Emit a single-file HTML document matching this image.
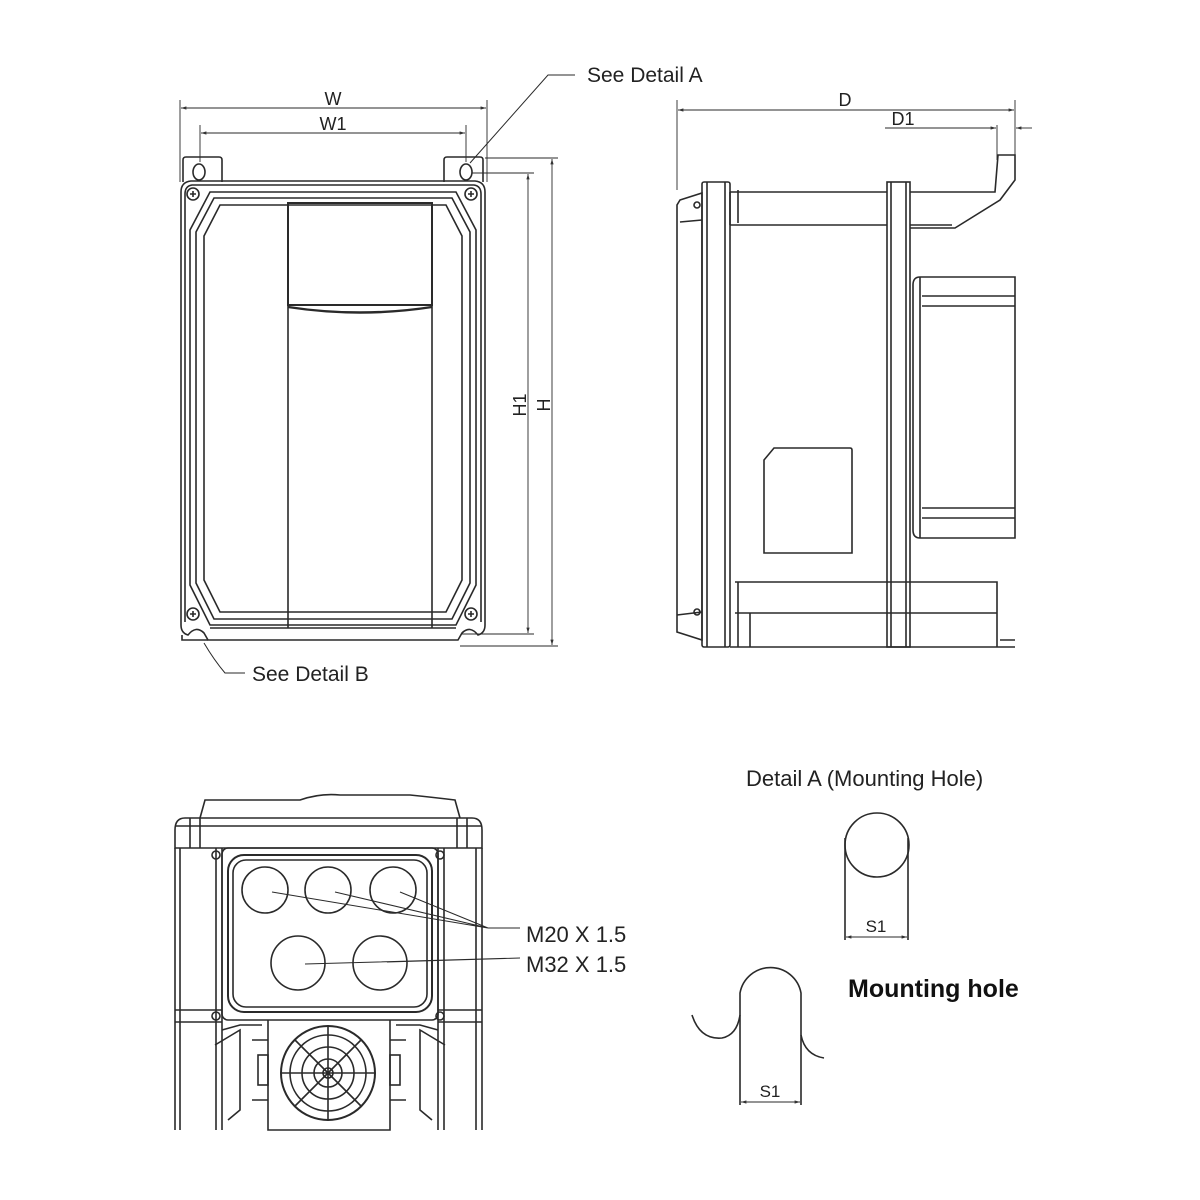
<!DOCTYPE html>
<html><head><meta charset="utf-8"><style>
html,body{margin:0;padding:0;background:#fff}
svg{display:block}
text{font-family:"Liberation Sans",Arial,sans-serif;fill:#222}
</style></head><body>
<svg width="1200" height="1200" viewBox="0 0 1200 1200" xmlns="http://www.w3.org/2000/svg">
<defs>
<marker id="ar" viewBox="0 0 10 10" refX="10" refY="5" markerWidth="8" markerHeight="6" orient="auto-start-reverse"><path d="M0,2 L10,5 L0,8 z" fill="#333"/></marker>
</defs>
<g fill="none" stroke="#2a2a2a" stroke-width="1.6">
<!-- FRONT VIEW -->
<path d="M183,182 V160 Q183,157 186,157 H219 Q222,157 222,160 V182"/>
<path d="M444,182 V160 Q444,157 447,157 H480 Q483,157 483,160 V182"/>
<ellipse cx="199" cy="172" rx="6" ry="8"/>
<ellipse cx="466" cy="172" rx="6" ry="8"/>
<path d="M181,192 Q181,182 191,181 H475 Q485,182 485,192 V625 Q485,633 478,635 Q470,625 462,633 L458,640 H208 L204,633 Q196,625 188,635 Q181,633 181,625 Z"/>
<path d="M185,194 Q185,186 192,185 H474 Q481,186 481,194 V622"/>
<path d="M185,194 V622"/>
<path d="M190,230 L210,192 H456 L476,230 V585 L456,625 H210 L190,585 Z"/>
<path d="M196,232 L214,198 H452 L470,232 V583 L452,619 H214 L196,583 Z"/>
<path d="M204,236 L220,205 H446 L462,236 V580 L446,612 H220 L204,580 Z"/>
<path d="M182,635 V640 H208" />
<circle cx="193" cy="194" r="6"/><circle cx="471" cy="194" r="6"/>
<circle cx="193" cy="614" r="6"/><circle cx="471" cy="614" r="6"/>
<path d="M190,194 H196 M193,191 V197 M468,194 H474 M471,191 V197 M190,614 H196 M193,611 V617 M468,614 H474 M471,611 V617"/>
<rect x="288" y="203" width="144" height="102" stroke-width="2"/>
<path d="M288,307 Q360,318 432,307" stroke-width="2.4"/>
<path d="M288,305 V628 M432,305 V628"/>
<path d="M210,628 H456" />
<!-- front dims -->
<path d="M180,100 V182 M487,100 V182 M200,125 V162 M466,125 V162" stroke-width="0.9"/>
<path d="M181,108 H486" marker-start="url(#ar)" marker-end="url(#ar)" stroke-width="0.9"/>
<path d="M201,133 H465" marker-start="url(#ar)" marker-end="url(#ar)" stroke-width="0.9"/>
<path d="M485,158 H558 M472,173 H534 M462,634 H534 M460,646 H558" stroke-width="0.9"/>
<path d="M552,159 V645" marker-start="url(#ar)" marker-end="url(#ar)" stroke-width="0.9"/>
<path d="M528,174 V633" marker-start="url(#ar)" marker-end="url(#ar)" stroke-width="0.9"/>
<path d="M575,75 H548 L470,163" stroke-width="1"/>
<path d="M204,643 Q214,660 225,673 H245" stroke-width="1"/>
<!-- SIDE VIEW -->
<path d="M677,100 V190 M1015,100 V160 M997,125 V160" stroke-width="0.9"/>
<path d="M678,110 H1014" marker-start="url(#ar)" marker-end="url(#ar)" stroke-width="0.9"/>
<path d="M885,128 H996" marker-end="url(#ar)" stroke-width="0.9"/>
<path d="M1032,128 H1016" marker-end="url(#ar)" stroke-width="0.9"/>
<path d="M680,200 L702,193 V640 L677,632 V205 Z"/>
<path d="M680,222 L702,220 M677,615 L702,612"/>
<rect x="702" y="182" width="28" height="465" rx="2"/>
<path d="M707,182 V647 M725,182 V647"/>
<path d="M730,192 H887 M730,225 H887 M730,192 V225 M738,190 V223"/>
<rect x="887" y="182" width="23" height="465"/>
<path d="M891,182 V647 M906,182 V647"/>
<path d="M910,192 H995 L998,155 H1015 V180 L1000,200 L955,228 H910"/>
<path d="M910,225 H952"/>
<path d="M913,285 Q913,277 920,277 H1015 V538 H920 Q913,538 913,530 Z"/>
<path d="M920,277 V538 M922,296 H1015 M922,306 H1015 M922,508 H1015 M922,518 H1015"/>
<path d="M774,448 H850 Q852,448 852,450 V553 H764 V460 Z"/>
<path d="M735,582 H997 V647 M735,613 H997 M738,582 V647 M750,613 V647"/>
<path d="M730,647 H1015 M1000,640 H1015"/>
<circle cx="697" cy="205" r="3"/><circle cx="697" cy="612" r="3"/>
<!-- BOTTOM VIEW -->
<path d="M200,818 L205,800 H300 Q320,793 340,795 H410 Q430,797 455,800 L460,818"/>
<path d="M175,830 Q175,818 185,818 H472 Q482,818 482,830 V848 H175 Z"/>
<path d="M175,826 H482 M200,818 V848 M457,818 V848 M190,818 V848 M467,818 V848"/>
<path d="M175,848 V1130 M222,848 V1130 M438,848 V1130 M482,848 V1130"/>
<path d="M180,848 V1130 M216,848 V1130 M444,848 V1130 M476,848 V1130"/>
<path d="M175,1010 H222 M175,1022 H222 M438,1010 H482 M438,1022 H482"/>
<rect x="222" y="848" width="216" height="172" rx="6"/>
<rect x="228" y="855" width="204" height="157" rx="16" stroke-width="2"/>
<rect x="233" y="860" width="194" height="147" rx="13"/>
<circle cx="216" cy="855" r="4"/><circle cx="440" cy="855" r="4"/>
<circle cx="216" cy="1016" r="4"/><circle cx="440" cy="1016" r="4"/>
<circle cx="265" cy="890" r="23"/><circle cx="328" cy="890" r="23"/><circle cx="393" cy="890" r="23"/>
<circle cx="298" cy="963" r="27"/><circle cx="380" cy="963" r="27"/>
<path d="M268,1020 V1130 H390 V1020"/>
<path d="M222,1030 L240,1025 H262 M438,1030 L420,1025 H396 M215,1045 L240,1030 V1110 L228,1120 M445,1045 L420,1030 V1110 L432,1120"/>
<path d="M252,1040 H268 M252,1100 H268 M390,1040 H406 M390,1100 H406"/>
<rect x="258" y="1055" width="10" height="30"/><rect x="390" y="1055" width="10" height="30"/>
<circle cx="328" cy="1073" r="47" stroke-width="2"/>
<circle cx="328" cy="1073" r="38"/>
<circle cx="328" cy="1073" r="26"/>
<circle cx="328" cy="1073" r="14"/>
<circle cx="328" cy="1073" r="5"/>
<path d="M328,1026 V1120 M281,1073 H375 M295,1040 L361,1106 M361,1040 L295,1106"/>
<!-- leaders -->
<path d="M488,928 L272,892 M488,928 L335,892 M488,928 L400,892 M488,928 H520" stroke-width="1"/>
<path d="M520,958 L305,964 M520,958 L387,962" stroke-width="1"/>
<!-- DETAIL A -->
<circle cx="877" cy="845" r="32"/>
<path d="M845,838 V940 M908,838 V940"/>
<path d="M846,937 H907" marker-start="url(#ar)" marker-end="url(#ar)" stroke-width="0.9"/>
<!-- DETAIL B -->
<path d="M740,1105 V993 A31,31 0 0 1 801,993 V1105"/>
<path d="M692,1015 Q700,1040 722,1038 Q737,1035 740,1015"/>
<path d="M801,1035 Q805,1055 824,1058"/>
<path d="M741,1102 H800" marker-start="url(#ar)" marker-end="url(#ar)" stroke-width="0.9"/>
</g>
<text x="333" y="105" font-size="18" text-anchor="middle">W</text>
<text x="333" y="130" font-size="18" text-anchor="middle">W1</text>
<text x="845" y="106" font-size="18" text-anchor="middle">D</text>
<text x="903" y="125" font-size="18" text-anchor="middle">D1</text>
<text x="587" y="82" font-size="21">See Detail A</text>
<text x="252" y="681" font-size="21">See Detail B</text>
<text transform="translate(526,405) rotate(-90)" font-size="18" text-anchor="middle">H1</text>
<text transform="translate(550,405) rotate(-90)" font-size="18" text-anchor="middle">H</text>
<text x="526" y="942" font-size="22">M20 X 1.5</text>
<text x="526" y="972" font-size="22">M32 X 1.5</text>
<text x="746" y="786" font-size="22">Detail A (Mounting Hole)</text>
<text x="876" y="932" font-size="17" text-anchor="middle">S1</text>
<text x="770" y="1097" font-size="17" text-anchor="middle">S1</text>
<text x="848" y="997" font-size="25" font-weight="bold" style="fill:#111">Mounting hole</text>
</svg>
</body></html>
